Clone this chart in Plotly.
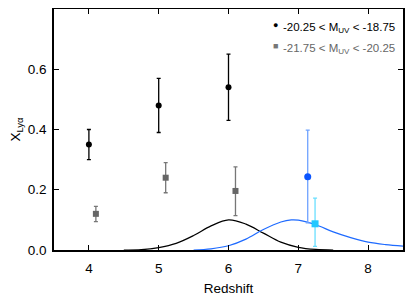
import plotly.graph_objects as go

# --- data ---
faint_z = [4.0, 5.0, 6.0]
faint_x = [0.35, 0.48, 0.54]
faint_up = [0.05, 0.09, 0.11]
faint_dn = [0.05, 0.09, 0.11]

bright_z = [4.1, 5.1, 6.1]
bright_x = [0.12, 0.24, 0.196]
bright_up = [0.025, 0.05, 0.08]
bright_dn = [0.026, 0.05, 0.082]

z7_faint_z = [7.135]
z7_faint_x = [0.243]
z7_faint_up = [0.155]
z7_faint_dn = [0.153]

z7_bright_z = [7.24]
z7_bright_x = [0.087]
z7_bright_up = [0.085]
z7_bright_dn = [0.075]

curve6_z = [4.5, 4.75, 5.0, 5.25, 5.5, 5.75, 6.0, 6.25, 6.5, 6.75, 7.0, 7.25, 7.5]
curve6_y = [0.0, 0.001, 0.008, 0.022, 0.048, 0.08, 0.100, 0.086, 0.056, 0.026, 0.009, 0.002, 0.0]

curve7_z = [5.5, 5.75, 6.0, 6.25, 6.5, 6.75, 6.9, 7.0, 7.25, 7.5, 7.75, 8.0, 8.25, 8.5]
curve7_y = [0.0, 0.004, 0.014, 0.036, 0.068, 0.093, 0.100, 0.099, 0.084, 0.060, 0.041, 0.026, 0.018, 0.013]

xticks = [4, 5, 6, 7, 8]
yticks = [0.0, 0.2, 0.4, 0.6]

legend_labels = ["-20.25 < M<sub>UV</sub> < -18.75", "-21.75 < M<sub>UV</sub> < -20.25"]

FONT = "Liberation Sans, Arial, Helvetica, sans-serif"

fig = go.Figure()

fig.add_trace(go.Scatter(x=curve6_z, y=curve6_y, mode="lines", line=dict(color="black", width=1.2, shape="spline"), hoverinfo="skip"))
fig.add_trace(go.Scatter(x=curve7_z, y=curve7_y, mode="lines", line=dict(color="#1f6bff", width=1.2, shape="spline"), hoverinfo="skip"))

def pts(z, v, up, dn, color, ecolor, symbol, size):
    fig.add_trace(go.Scatter(
        x=z, y=v, mode="markers",
        marker=dict(color=color, symbol=symbol, size=size, line=dict(width=0)),
        error_y=dict(type="data", array=up, arrayminus=dn, color=ecolor, thickness=1.3, width=2),
    ))

pts(faint_z, faint_x, faint_up, faint_dn, "black", "black", "circle", 6)
pts(bright_z, bright_x, bright_up, bright_dn, "#666666", "#777777", "square", 6)
pts(z7_faint_z, z7_faint_x, z7_faint_up, z7_faint_dn, "#0a55ff", "#6fa3ff", "circle", 7)
pts(z7_bright_z, z7_bright_x, z7_bright_up, z7_bright_dn, "#22c8ff", "#6adfff", "square", 7)

# page offset of the figure (browser body margin) is 8px
OFF = 8
W, H = 415 - OFF, 302 - OFF
px0, px1, py0, py1 = 54, 403, 9, 250   # target plot box in page pixels
ml, mr, mt, mb = px0 - OFF, W - (px1 - OFF), py0 - OFF, H - (py1 - OFF)

def xp(px):
    return (px - px0) / (px1 - px0)
def yp(py):
    return (py1 - py) / (py1 - py0)

fig.add_annotation(x=xp(275), y=yp(25), xref="paper", yref="paper", text="●", showarrow=False,
                   font=dict(size=9, color="black", family=FONT), xanchor="center", yanchor="middle")
fig.add_annotation(x=xp(281), y=yp(28), xref="paper", yref="paper", text=legend_labels[0], showarrow=False,
                   font=dict(size=11.5, color="black", family=FONT), xanchor="left", yanchor="middle")
fig.add_annotation(x=xp(275), y=yp(46), xref="paper", yref="paper", text="■", showarrow=False,
                   font=dict(size=9, color="#777777", family=FONT), xanchor="center", yanchor="middle")
fig.add_annotation(x=xp(281), y=yp(49), xref="paper", yref="paper", text=legend_labels[1], showarrow=False,
                   font=dict(size=11.5, color="#666666", family=FONT), xanchor="left", yanchor="middle")

axis_common = dict(showline=True, linecolor="black", linewidth=1.5, mirror=True,
                   ticks="inside", ticklen=5, tickwidth=1.2, tickcolor="black",
                   showgrid=False, zeroline=False, tickfont=dict(size=13.5, color="black", family=FONT))

fig.update_xaxes(range=[3.5, 8.5], tickvals=xticks, ticktext=[str(v) for v in xticks],
                 ticklabelstandoff=5,
                 title=dict(text="Redshift", font=dict(size=13.5, color="black", family=FONT), standoff=9),
                 **axis_common)
fig.update_yaxes(range=[0, 0.8], tickvals=yticks, ticktext=[f"{v:.1f}" for v in yticks],
                 ticklabelstandoff=3,
                 title=dict(text="X<sub>Lyα</sub>", font=dict(size=13.5, color="black", family=FONT), standoff=8),
                 **axis_common)

# mirrored inside ticks on top and right via overlaying axes
fig.update_layout(
    xaxis2=dict(overlaying="x", side="top", matches="x", range=[3.5, 8.5], tickvals=xticks,
                showticklabels=False, ticks="inside", ticklen=5, tickwidth=1.2, tickcolor="black",
                showgrid=False, zeroline=False, showline=False),
    yaxis2=dict(overlaying="y", side="right", matches="y", range=[0, 0.8], tickvals=yticks,
                showticklabels=False, ticks="inside", ticklen=5, tickwidth=1.2, tickcolor="black",
                showgrid=False, zeroline=False, showline=False),
)
fig.add_trace(go.Scatter(x=[None], y=[None], xaxis="x2", yaxis="y2", showlegend=False, hoverinfo="skip"))

fig.update_layout(width=W, height=H, margin=dict(l=ml, r=mr, t=mt, b=mb, autoexpand=False),
                  paper_bgcolor="white", plot_bgcolor="white", showlegend=False,
                  font=dict(family=FONT, color="black"))

fig.write_html("out.html")
